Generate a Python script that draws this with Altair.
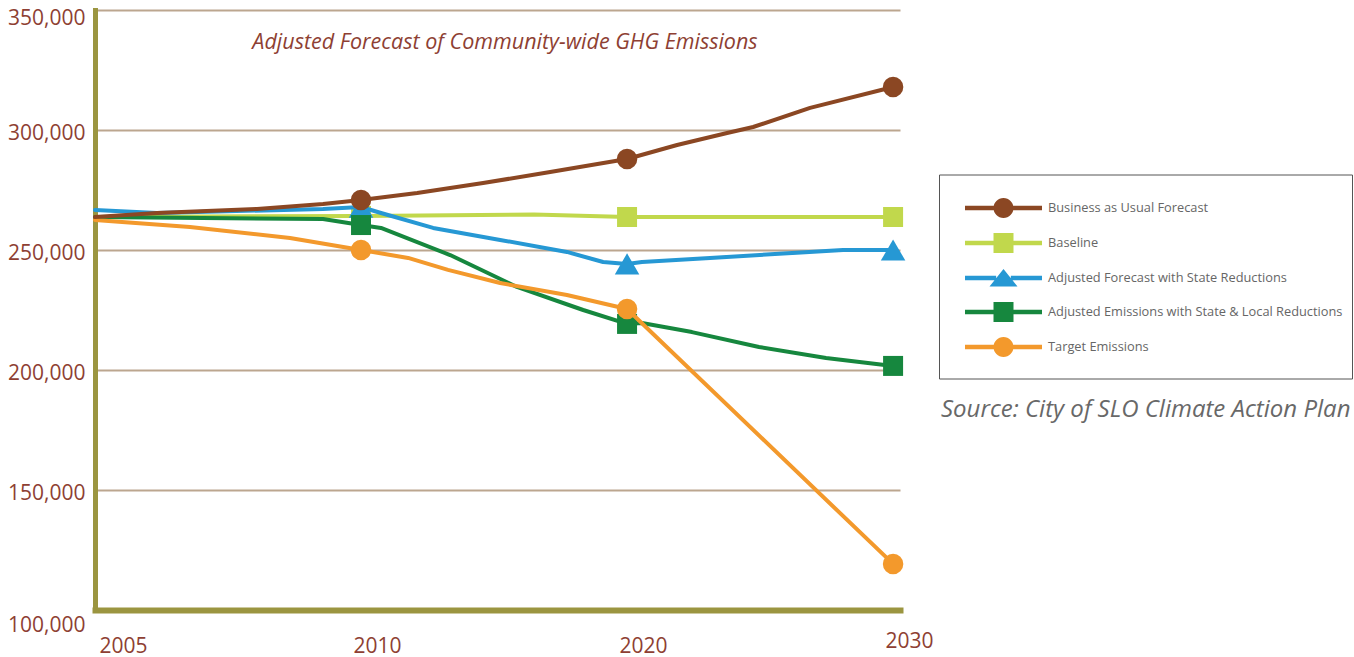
import altair as alt
import pandas as pd

years = ["2005", "2010", "2020", "2030"]
series = [
    "Business as Usual Forecast",
    "Baseline",
    "Adjusted Forecast with State Reductions",
    "Adjusted Emissions with State & Local Reductions",
    "Target Emissions",
]
colors = ["#8b4723", "#c1d84c", "#2698d4", "#16873e", "#f3992c"]
marker_shapes = ["circle", "square", "triangle-up", "square", "circle"]
marker_sizes = [420, 400, 600, 400, 420]

# x positions: 0 = 2005, 1 = 2010, 2 = 2020, 3 = 2030 (equally spaced categories)
bau_x = [0, 0.233, 0.609, 0.857, 1, 1.211, 1.459, 1.711, 2, 2.188, 2.376, 2.474, 2.688, 3]
bau_y = [263750, 265400, 267100, 269200, 270800, 273750, 277900, 282500, 287900,
         293750, 298750, 301250, 309200, 317900]
base_x = [0, 1, 1.65, 2, 3]
base_y = [263750, 264200, 264800, 263750, 263750]
state_x = [0, 0.233, 0.857, 1, 1.075, 1.271, 1.523, 1.774, 1.910, 2, 2.056, 2.312, 2.812, 3]
state_y = [266700, 265400, 267100, 267900, 265400, 259200, 254200, 249200, 245000,
           244200, 245000, 246700, 250000, 250000]
local_x = [0, 0.857, 1, 1.075, 1.335, 1.586, 1.835, 2, 2.056, 2.244, 2.496, 2.748, 3]
local_y = [263750, 262900, 260400, 259200, 247900, 234600, 225000, 219200, 219600,
           215800, 209600, 205000, 201700]
target_x = [0, 0.357, 0.733, 1, 1.177, 1.327, 1.523, 1.774, 2, 3]
target_y = [262500, 259600, 255000, 250000, 246700, 241700, 236250, 231250, 225400, 119200]

chart_title = "Adjusted Forecast of Community-wide GHG Emissions"
source_note = "Source: City of SLO Climate Action Plan"

xs = [bau_x, base_x, state_x, local_x, target_x]
ys = [bau_y, base_y, state_y, local_y, target_y]
rows = []
for name, sx, sy in zip(series, xs, ys):
    for i, (a, b) in enumerate(zip(sx, sy)):
        rows.append({"series": name, "x": a, "y": b, "i": i})
df = pd.DataFrame(rows)

# legend symbols: line + marker as custom paths (unit = 24.5 px)
H = 49
W = 77 / H
line_l = f"M-{W:.4f},-0.09H-0.3V0.09H-{W:.4f}Z"
line_r = f"M0.3,-0.09H{W:.4f}V0.09H0.3Z"
circle_p = "M0.408,0A0.408,0.408 0 1,1 -0.408,0A0.408,0.408 0 1,1 0.408,0Z"
square_p = "M-0.408,-0.408H0.408V0.408H-0.408Z"
tri_p = "M0,-0.367L0.571,0.347L-0.571,0.347Z"
sym = {"circle": circle_p, "square": square_p, "triangle-up": tri_p}
legend_paths = [line_l + line_r + sym[s] for s in marker_shapes]

label_color = "#8e3f33"
axis_color = "#9b9540"

x_enc = alt.X(
    "x:Q",
    scale=alt.Scale(domain=[0, 3.026], nice=False, zero=False),
    axis=alt.Axis(
        values=[0, 1, 2, 3],
        labelExpr="[" + ",".join("'" + y + "'" for y in years) + "][datum.value]",
        title=None, grid=False, ticks=False, tickSize=0,
        domainColor=axis_color, domainWidth=6, domainCap="square",
        labelFont="Open Sans", labelFontSize=21, labelColor=label_color,
        labelFlush=False,
        labelPadding={"condition": {"test": "datum.value == 3", "value": 20}, "value": 25},
        labelOffset={"condition": {"test": "datum.value == 0", "value": 28}, "value": 16},
    ),
)
y_enc = alt.Y(
    "y:Q",
    scale=alt.Scale(domain=[100000, 350000], nice=False, zero=False),
    axis=alt.Axis(
        values=[100000, 150000, 200000, 250000, 300000, 350000],
        format=",d", title=None, ticks=False, tickSize=0,
        grid=True, gridColor="#bca68f", gridWidth=2,
        domainColor=axis_color, domainWidth=5, domainCap="square",
        labelFont="Open Sans", labelFontSize=21, labelColor=label_color,
        labelPadding=10, labelFlush=False, labelBaseline="middle",
        labelOffset={"condition": [
            {"test": "datum.value == 100000", "value": 15},
            {"test": "datum.value == 350000", "value": 8},
        ], "value": 3},
    ),
)

base = alt.Chart(df)
legend = alt.Legend(
    title=" ", titleOrient="bottom", titleFontSize=2, titlePadding=11,
    orient="none", legendX=844, legendY=164.5, padding=9,
    symbolOffset=31, labelOffset=20, symbolSize=H * H, symbolStrokeWidth=0,
    symbolOpacity=1, labelFont="Open Sans", labelFontSize=12.8, labelColor="#666666",
    strokeColor="#555555", fillColor="white", rowPadding=0, labelLimit=0,
)
legend_layer = base.transform_filter("false").mark_point(filled=True, opacity=1).encode(
    color=alt.Color("series:N", scale=alt.Scale(domain=series, range=colors), legend=legend),
    shape=alt.Shape("series:N", scale=alt.Scale(domain=series, range=legend_paths), legend=legend),
)

layers = [legend_layer]
draw_order = [1, 2, 3, 4, 0]
for k in draw_order:
    name = series[k]
    sub = base.transform_filter(alt.datum.series == name)
    layers.append(
        sub.mark_line(color=colors[k], strokeWidth=4, strokeJoin="round", strokeCap="round").encode(
            x=x_enc, y=y_enc, order="i:Q"
        )
    )
    layers.append(
        sub.transform_filter("datum.x == 1 || datum.x == 2 || datum.x == 3")
        .mark_point(filled=True, opacity=1, shape=marker_shapes[k], size=marker_sizes[k], color=colors[k])
        .encode(x=x_enc, y=y_enc)
    )

texts = pd.DataFrame({"t": [chart_title], "s": [source_note]})
title_layer = alt.Chart(texts).mark_text(
    font="Open Sans", fontSize=21.5, fontStyle="italic", color=label_color, align="center", baseline="middle"
).encode(text="t:N", x=alt.value(410), y=alt.value(33))
source_layer = alt.Chart(texts).mark_text(
    font="Open Sans", fontSize=24, fontStyle="italic", color="#686868", align="left", baseline="middle"
).encode(text="s:N", x=alt.value(846), y=alt.value(400))
layers += [title_layer, source_layer]

chart = alt.layer(*layers).properties(
    width=805, height=600,
    padding={"left": 95, "top": 10, "right": 454, "bottom": 47},
    autosize=alt.AutoSizeParams(type="none"),
    background="white",
).configure_view(stroke=None)

chart.save("out.html", embed_options={"renderer": "svg", "actions": False})
